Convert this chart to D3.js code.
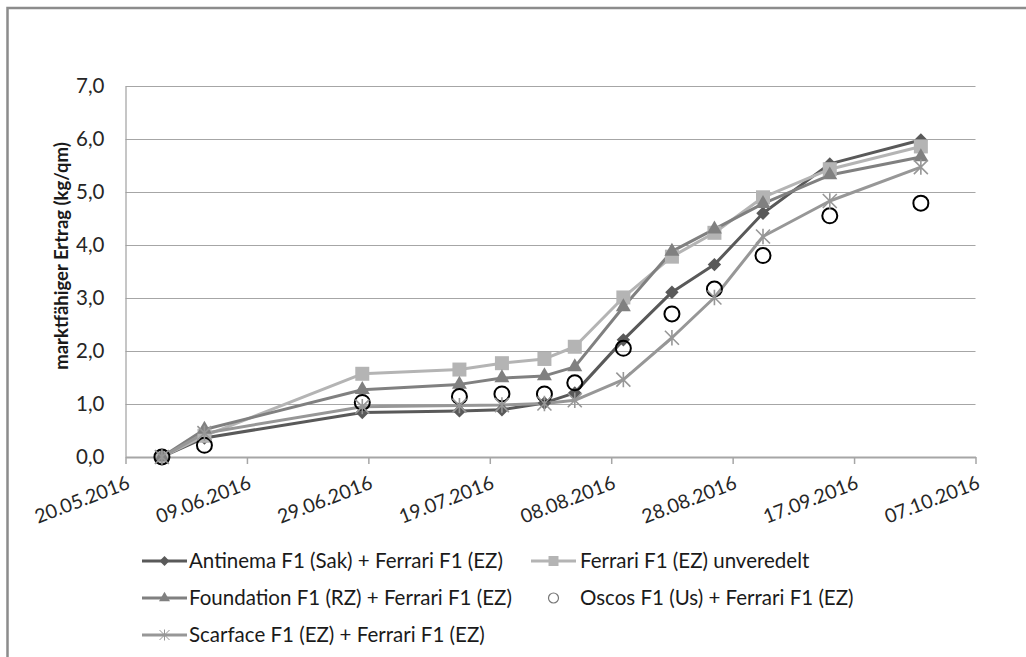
<!DOCTYPE html>
<html>
<head>
<meta charset="utf-8">
<script src="https://cdn.jsdelivr.net/npm/d3@7"></script>
<style>
	body { margin: 0; background: #fff; }
	svg { display: block; font-family: Lato, "Liberation Sans", sans-serif; }
</style>
</head>
<body>
<div id="container"></div>
<script>
const width = 1026;
const height = 657;

// Harvest dates (dd.mm.yyyy)
const dates = ["26.05.2016", "02.06.2016", "28.06.2016", "14.07.2016", "21.07.2016", "28.07.2016",
	"02.08.2016", "10.08.2016", "18.08.2016", "25.08.2016", "02.09.2016", "13.09.2016", "28.09.2016"];

// Cumulative marketable yield (kg/qm) per series
const antinema = [0.0, 0.36, 0.84, 0.87, 0.89, 1.02, 1.21, 2.21, 3.11, 3.63, 4.60, 5.53, 5.98];
const ferrari = [0.0, 0.40, 1.57, 1.65, 1.77, 1.85, 2.08, 3.01, 3.78, 4.23, 4.90, 5.43, 5.86];
const foundation = [0.0, 0.52, 1.27, 1.37, 1.49, 1.53, 1.70, 2.83, 3.88, 4.30, 4.78, 5.32, 5.66];
const oscos = [0.0, 0.22, 1.03, 1.14, 1.19, 1.19, 1.40, 2.05, 2.70, 3.17, 3.80, 4.55, 4.79];
const scarface = [0.0, 0.45, 0.95, 0.97, 0.98, 1.01, 1.07, 1.46, 2.25, 3.01, 4.16, 4.83, 5.47];

const seriesNames = ["Antinema F1 (Sak) + Ferrari F1 (EZ)", "Ferrari F1 (EZ) unveredelt",
	"Foundation F1 (RZ) + Ferrari F1 (EZ)", "Oscos F1 (Us) + Ferrari F1 (EZ)",
	"Scarface F1 (EZ) + Ferrari F1 (EZ)"];

// x axis ticks every 20 days
const xTicks = ["20.05.2016", "09.06.2016", "29.06.2016", "19.07.2016", "08.08.2016",
	"28.08.2016", "17.09.2016", "07.10.2016"];
const yTicks = [0, 1, 2, 3, 4, 5, 6, 7];

const parseDate = d3.timeParse("%d.%m.%Y");
const fmtDate = d3.timeFormat("%d.%m.%Y");
const fmtY = d3.formatLocale({ decimal: ",", thousands: ".", grouping: [3], currency: ["", "€"] }).format(".1f");

// styles per series: colour, marker, line yes/no
const styles = [
	{ color: "#595959", marker: "diamond", line: true },
	{ color: "#b4b4b4", marker: "square", line: true },
	{ color: "#808080", marker: "triangle", line: true },
	{ color: "#000000", marker: "circle", line: false },
	{ color: "#979797", marker: "asterisk", line: true }
];
const values = [antinema, ferrari, foundation, oscos, scarface];

const series = seriesNames.map((name, i) => ({
	name: name,
	style: styles[i],
	points: dates.map((d, j) => ({ date: parseDate(d), value: values[i][j] }))
}));

const x = d3.scaleTime()
	.domain([parseDate(xTicks[0]), parseDate(xTicks[xTicks.length - 1])])
	.range([125.5, 975.5]);

const y = d3.scaleLinear()
	.domain([0, 7])
	.range([457, 86]);

let svg = d3.select("#container")
	.append("svg")
	.attr("width", width)
	.attr("height", height);

// chart frame (extends past right/bottom edge)
svg.append("rect")
	.attr("x", 7.5)
	.attr("y", 8)
	.attr("width", 1040)
	.attr("height", 680)
	.attr("fill", "none")
	.attr("stroke", "#8c8c8c")
	.attr("stroke-width", 2.5);

// gridlines
svg.append("g")
	.selectAll("line")
	.data(yTicks.slice(1))
	.enter()
	.append("line")
	.attr("x1", x.range()[0])
	.attr("x2", x.range()[1])
	.attr("y1", d => y(d) + 0.5)
	.attr("y2", d => y(d) + 0.5)
	.attr("stroke", "#a6a6a6")
	.attr("stroke-width", 1.2);

// y axis
let yAxis = svg.append("g")
	.attr("transform", "translate(" + x.range()[0] + ",0)")
	.call(d3.axisLeft(y).tickValues(yTicks).tickSize(0).tickPadding(21).tickFormat(fmtY));
yAxis.select(".domain").attr("stroke", "#a0a0a0").attr("stroke-width", 1.2);
yAxis.selectAll("text")
	.attr("font-family", "Lato, sans-serif")
	.attr("font-size", 20.5)
	.attr("fill", "#262626");

// x axis
let xAxis = svg.append("g")
	.attr("transform", "translate(0," + y(0) + ")")
	.call(d3.axisBottom(x).tickValues(xTicks.map(parseDate)).tickSize(7).tickSizeOuter(0).tickFormat(fmtDate));
xAxis.select(".domain").attr("stroke", "#a6a6a6").attr("stroke-width", 2.2);
xAxis.selectAll(".tick line").attr("stroke", "#a6a6a6").attr("stroke-width", 1.5);
xAxis.selectAll("text")
	.attr("font-family", "Lato, sans-serif")
	.attr("font-size", 19.5)
	.attr("fill", "#262626")
	.attr("text-anchor", "end")
	.attr("dy", 0)
	.attr("y", 0)
	.attr("transform", "translate(5,31) rotate(-21)");

// y axis title
svg.append("text")
	.attr("transform", "translate(68,256) rotate(-90)")
	.attr("text-anchor", "middle")
	.attr("font-weight", "bold")
	.attr("font-size", 18.5)
	.attr("fill", "#1a1a1a")
	.text("marktfähiger Ertrag (kg/qm)");

// marker generator
function markerPath(type, s) {
	if (type === "diamond") return d3.symbol().type(d3.symbolSquare).size(s * s)();
	if (type === "square") return d3.symbol().type(d3.symbolSquare).size(s * s)();
	if (type === "triangle") return d3.symbol().type(d3.symbolTriangle).size(s * s * 0.433)();
	if (type === "circle") return d3.symbol().type(d3.symbolCircle).size(Math.PI * s * s / 4)();
	// asterisk: X plus vertical bar
	let h = s / 2;
	return "M" + (-h) + "," + (-h) + "L" + h + "," + h +
		"M" + (-h) + "," + h + "L" + h + "," + (-h) +
		"M0," + (-h * 1.1) + "L0," + (h * 1.1);
}

function drawMarker(sel, style, s, legend) {
	sel.attr("d", markerPath(style.marker, s))
		.attr("transform", function() {
			let t = d3.select(this).attr("transform") || "";
			return style.marker === "diamond" ? t + " rotate(45)" : t;
		});
	if (style.marker === "asterisk") {
		sel.attr("fill", "none").attr("stroke", style.color).attr("stroke-width", legend ? 1 : 1.6);
	} else if (style.marker === "circle") {
		sel.attr("fill", "none").attr("stroke", legend ? "#777" : "#000").attr("stroke-width", legend ? 1.2 : 2);
	} else {
		sel.attr("fill", style.color).attr("stroke", "none");
	}
}

const line = d3.line()
	.x(d => x(d.date))
	.y(d => y(d.value));

const sizes = { diamond: 9.5, square: 14, triangle: 15, circle: 15, asterisk: 14 };

// lines first, then markers
let plot = svg.append("g");
series.forEach(s => {
	if (s.style.line) {
		plot.append("path")
			.datum(s.points)
			.attr("d", line)
			.attr("fill", "none")
			.attr("stroke", s.style.color)
			.attr("stroke-width", 3)
			.attr("stroke-linejoin", "round");
	}
});
series.forEach(s => {
	plot.append("g")
		.selectAll("path")
		.data(s.points)
		.enter()
		.append("path")
		.attr("transform", d => "translate(" + x(d.date) + "," + y(d.value) + ")")
		.call(drawMarker, s.style, sizes[s.style.marker], false);
});

// legend
const legendPos = [[142, 561], [531, 561], [142, 598], [531, 598], [142, 635]];
const legendSizes = { diamond: 7, square: 10, triangle: 11, circle: 10, asterisk: 10 };
let legend = svg.append("g")
	.selectAll("g")
	.data(series)
	.enter()
	.append("g")
	.attr("transform", (d, i) => "translate(" + legendPos[i][0] + "," + legendPos[i][1] + ")");

legend.filter(d => d.style.line)
	.append("line")
	.attr("x1", 0)
	.attr("x2", 45)
	.attr("stroke", d => d.style.color)
	.attr("stroke-width", 3);

legend.each(function(d) {
	d3.select(this).append("path")
		.attr("transform", "translate(22.5,0)")
		.call(drawMarker, d.style, legendSizes[d.style.marker], true);
});

legend.append("text")
	.attr("x", (d, i) => i % 2 === 0 ? 47 : 49)
	.attr("dy", "0.35em")
	.attr("font-size", 20.5)
	.attr("fill", "#1a1a1a")
	.text(d => d.name);
</script>
</body>
</html>
